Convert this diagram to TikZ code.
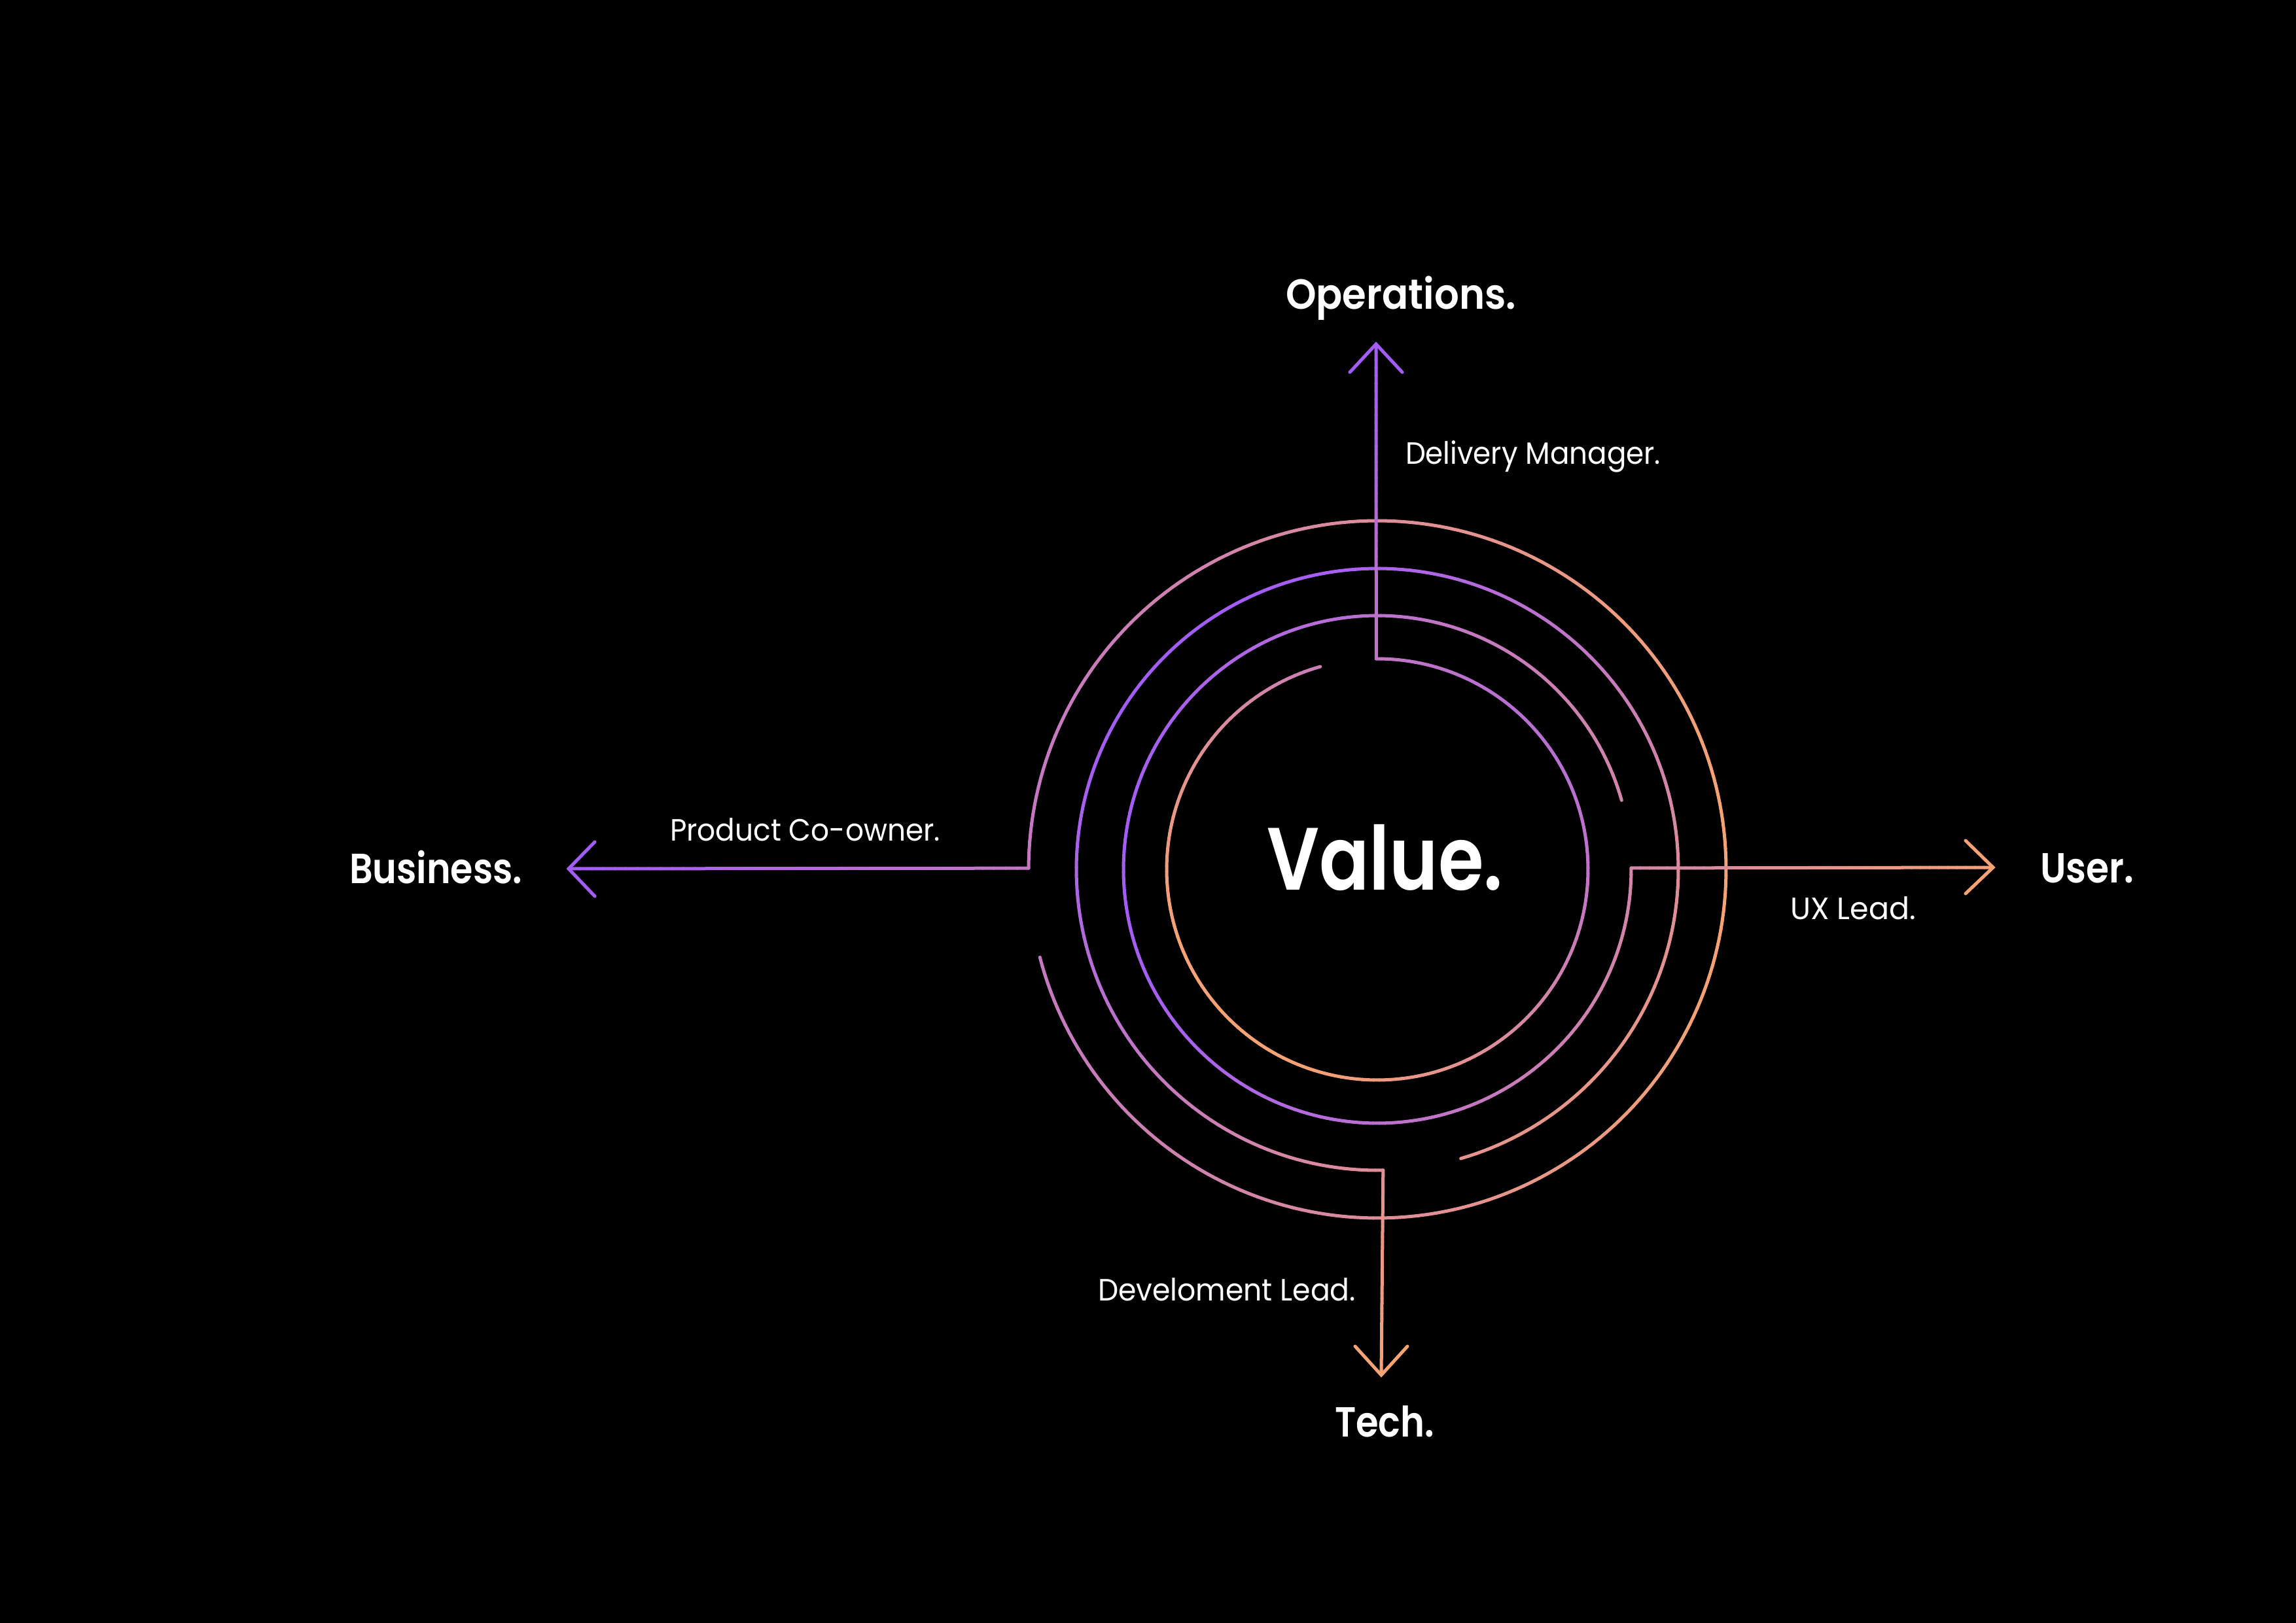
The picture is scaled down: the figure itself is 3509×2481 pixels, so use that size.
\documentclass[tikz,border=0pt]{standalone}
\usepackage{fontspec}
\setmainfont{Poppins}
\IfFontExistsTF{Poppins SemiBold}
  {\newfontfamily\semib{Poppins SemiBold}}
  {\newcommand\semib{\bfseries}}
\usepackage{graphicx}
\usetikzlibrary{calc}

\definecolor{purp}{RGB}{164,92,246}
\definecolor{orng}{RGB}{246,162,114}

% centre of the rings (units: 0.1 mm, y pointing down)
\def\cx{2105}
\def\cy{1329}

\tikzset{
  ring/.style={line width=0.5mm, line cap=round},
  chevron/.style={line width=0.5mm, line cap=round, line join=miter},
  lab/.style={text=white, inner sep=0pt, outer sep=0pt, anchor=base west},
  bigfont/.style={font=\semib\fontsize{18.3pt}{22pt}\selectfont},
  smallfont/.style={font=\fontsize{13.4pt}{16pt}\selectfont},
  valfont/.style={font=\semib\fontsize{38.5pt}{44pt}\selectfont},
}

% gradient-stroked arc around the centre
% #1 radius, #2 start angle, #3 end angle, #4 base mix, #5 weight on x, #6 weight on y
\newcommand\gradring[6]{%
  \pgfmathsetmacro\nseg{int(ceil(abs(#3-#2)/1.5))}%
  \pgfmathsetmacro\astep{(#3-#2)/\nseg}%
  \foreach \k in {1,...,\nseg}{%
    \pgfmathsetmacro\aA{#2+\astep*(\k-1)}%
    \pgfmathsetmacro\aB{#2+\astep*\k}%
    \pgfmathsetmacro\aM{(\aA+\aB)/2}%
    \pgfmathsetmacro\tc{100*max(0,min(1,#4+#5*#1*cos(\aM)-#6*#1*sin(\aM)))}%
    \draw[ring, draw=orng!\tc!purp]
      ({\cx+#1*cos(\aA)},{\cy-#1*sin(\aA)}) -- ({\cx+#1*cos(\aB)},{\cy-#1*sin(\aB)});
  }%
}

% gradient-stroked straight connector between two named coordinates
% #1 from, #2 to, #3 mix at start, #4 mix at end
\newcommand\gradline[4]{%
  \foreach \k in {1,...,40}{%
    \pgfmathsetmacro\tc{100*(#3+(#4-#3)*(\k-0.5)/40)}%
    \draw[ring, draw=orng!\tc!purp]
      ($(#1)!{(\k-1)/40}!(#2)$) -- ($(#1)!{\k/40}!(#2)$);
  }%
}

\begin{document}
\begin{tikzpicture}[x=0.1mm, y=-0.1mm]
  \fill[black] (0,0) rectangle (3509,2481);
  \useasboundingbox (0,0) rectangle (3509,2481);

  % corners where the connectors meet the rings
  \coordinate (opsc) at ({\cx+322*cos(90.3)},{\cy-322*sin(90.3)});
  \coordinate (uxc)  at ({\cx+388*cos(0.3)},{\cy-388*sin(0.3)});
  \coordinate (tecc) at ({\cx+460*cos(-88.9)},{\cy-460*sin(-88.9)});
  \coordinate (busc) at ({\cx+533*cos(179.8)},{\cy-533*sin(179.8)});

  % arrow tips
  \coordinate (opst) at (2103,526);
  \coordinate (uxt)  at (3046,1326);
  \coordinate (tect) at (2111,2102);
  \coordinate (bust) at (869,1328);

  % rings
  \gradring{322}{90.3}{-254.3}{0.64}{-0.0009}{0.0008}
  \gradring{388}{0.3}{-344.2}{0.29}{0.00075}{0}
  \gradring{460}{-88.9}{-433.9}{0.40}{0.00062}{0.00068}
  \gradring{533}{179.8}{-165.4}{0.70}{0.00057}{0}

  % connectors
  \gradline{opsc}{opst}{0.36}{0.0}
  \gradline{uxc}{uxt}{0.58}{1.0}
  \gradline{tecc}{tect}{0.74}{1.0}
  \gradline{busc}{bust}{0.40}{0.0}

  % arrow heads
  \draw[chevron, draw=purp] ($(opst)+(-40,43)$) -- (opst) -- ($(opst)+(40,43)$);
  \draw[chevron, draw=orng] ($(uxt)+(-42,-41)$) -- (uxt) -- ($(uxt)+(-42,40)$);
  \draw[chevron, draw=orng] ($(tect)+(-40,-44)$) -- (tect) -- ($(tect)+(40,-44)$);
  \draw[chevron, draw=purp] ($(bust)+(40,-41)$) -- (bust) -- ($(bust)+(40,42)$);

  % labels
  \node[lab, bigfont]   (ops)  at (1965,473)  {\resizebox{35.2mm}{\height}{Operations.}};
  \node[lab, smallfont] (dm)   at (2148,710)  {\resizebox{39.0mm}{\height}{Delivery Manager.}};
  \node[lab, bigfont]   (bus)  at (534,1350)  {\resizebox{26.4mm}{\height}{Business.}};
  \node[lab, smallfont] (pco)  at (1024,1285) {\resizebox{41.3mm}{\height}{Product Co-owner.}};
  \node[lab, bigfont]   (user) at (3118,1349) {\resizebox{14.3mm}{\height}{User.}};
  \node[lab, smallfont] (uxl)  at (2736,1405) {\resizebox{19.2mm}{\height}{UX Lead.}};
  \node[lab, bigfont]   (tech) at (2040,2196) {\resizebox{15.2mm}{\height}{Tech.}};
  \node[lab, smallfont] (devl) at (1678,1988) {\resizebox{39.4mm}{\height}{Develoment Lead.}};
  \node[lab, valfont]   (val)  at (1936,1360) {\resizebox{36.1mm}{\height}{Value.}};
\end{tikzpicture}
\end{document}
